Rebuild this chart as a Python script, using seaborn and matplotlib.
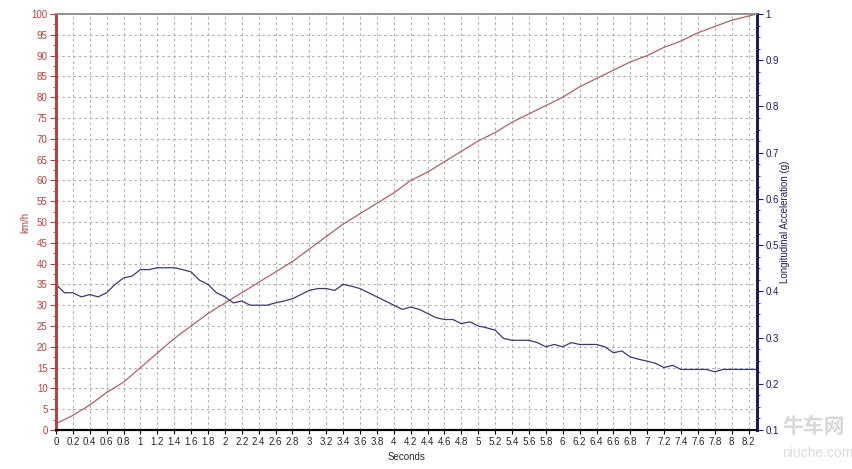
import numpy as np
import pandas as pd
import matplotlib.pyplot as plt
import seaborn as sns
from matplotlib.ticker import MultipleLocator, FixedLocator

# ------------------------- Data -------------------------
speed_t = [0, 0.2, 0.4, 0.6, 0.8, 1.0, 1.2, 1.4, 1.6, 1.8, 2.0, 2.2, 2.4, 2.6, 2.8,
           3.0, 3.2, 3.4, 3.6, 3.8, 4.0, 4.2, 4.4, 4.6, 4.8, 5.0, 5.2, 5.4, 5.6, 5.8,
           6.0, 6.2, 6.4, 6.6, 6.8, 7.0, 7.2, 7.4, 7.6, 7.8, 8.0, 8.3]
speed_kmh = [1.5, 3.5, 6, 9, 11.5, 15, 18.5, 22, 25, 28, 30.5, 33, 35.5, 38, 40.5,
             43.5, 46.5, 49.5, 52, 54.5, 57, 60, 62, 64.5, 67, 69.5, 71.5, 74, 76, 78,
             80, 82.5, 84.5, 86.5, 88.5, 90, 92, 93.5, 95.5, 97, 98.5, 100]

acc_t = [0, 0.1, 0.2, 0.3, 0.4, 0.5, 0.6, 0.7, 0.8, 0.9, 1.0, 1.1, 1.2, 1.3, 1.4,
         1.5, 1.6, 1.7, 1.8, 1.9, 2.0, 2.1, 2.2, 2.3, 2.4, 2.5, 2.6, 2.7, 2.8, 2.9,
         3.0, 3.1, 3.2, 3.3, 3.4, 3.5, 3.6, 3.7, 3.8, 3.9, 4.0, 4.1, 4.2, 4.3, 4.4,
         4.5, 4.6, 4.7, 4.8, 4.9, 5.0, 5.1, 5.2, 5.3, 5.4, 5.5, 5.6, 5.7, 5.8, 5.9,
         6.0, 6.1, 6.2, 6.3, 6.4, 6.5, 6.6, 6.7, 6.8, 6.9, 7.0, 7.1, 7.2, 7.3, 7.4,
         7.5, 7.6, 7.7, 7.8, 7.9, 8.0, 8.1, 8.3]
acc_g = [0.415, 0.397, 0.397, 0.388, 0.393, 0.388, 0.397, 0.415, 0.429, 0.433,
         0.447, 0.447, 0.451, 0.451, 0.451, 0.447, 0.442, 0.424, 0.415, 0.397,
         0.388, 0.375, 0.379, 0.370, 0.370, 0.370, 0.375, 0.379, 0.384, 0.393,
         0.402, 0.406, 0.406, 0.402, 0.415, 0.411, 0.406, 0.397, 0.388, 0.379,
         0.370, 0.361, 0.366, 0.361, 0.352, 0.343, 0.339, 0.339, 0.330, 0.334,
         0.325, 0.321, 0.316, 0.298, 0.294, 0.294, 0.294, 0.289, 0.280, 0.285,
         0.280, 0.289, 0.285, 0.285, 0.285, 0.280, 0.267, 0.271, 0.258, 0.253,
         0.249, 0.244, 0.235, 0.240, 0.231, 0.231, 0.231, 0.231, 0.226, 0.231,
         0.231, 0.231, 0.231]

x_ticks = [round(0.2 * i, 1) for i in range(42)]
x_labels = [f"{v:g}" for v in x_ticks]

speed_df = pd.DataFrame({"t": speed_t, "kmh": speed_kmh})
acc_df = pd.DataFrame({"t": acc_t, "g": acc_g})

# ------------------------- Style -------------------------
sns.set_style("white")
plt.rcParams["font.family"] = ["Liberation Sans", "Noto Sans CJK SC", "DejaVu Sans"]

red = "#b8403f"
navy = "#1e1a5e"

fig = plt.figure(figsize=(8.52, 4.69), dpi=100)
ax = fig.add_axes([0.0657, 0.0832, 0.8228, 0.8869])
ax2 = ax.twinx()

sns.lineplot(data=speed_df, x="t", y="kmh", ax=ax, color="#b06060", lw=0.9)
sns.lineplot(data=acc_df, x="t", y="g", ax=ax2, color="#3a3a70", lw=0.9)

ax.set_xlim(0, 8.3)
ax.set_ylim(0, 100)
ax2.set_ylim(0.1, 1.0)

ax.xaxis.set_major_locator(FixedLocator(x_ticks))
ax.set_xticklabels(x_labels)
ax.yaxis.set_major_locator(MultipleLocator(5))
ax.yaxis.set_minor_locator(MultipleLocator(2.5))
ax2.yaxis.set_major_locator(MultipleLocator(0.1))
ax2.yaxis.set_minor_locator(MultipleLocator(0.025))
ax2.set_yticklabels([f"{v:g}" for v in ax2.get_yticks()])

ax.grid(True, which="major", color="#b4b4b4", linestyle=(0, (2.5, 2.5)), lw=0.8)
ax2.grid(False)

ax.tick_params(axis="x", labelsize=7, length=3, width=0.8, color="black", pad=2, bottom=True)
ax.tick_params(axis="y", which="major", labelsize=7, length=4, width=0.8, colors=red, left=True, pad=2)
ax.tick_params(axis="y", which="minor", length=2, width=0.6, color=red, left=True)
ax2.tick_params(axis="y", which="major", labelsize=7, length=4, width=0.8, colors=navy, right=True, pad=2)
ax2.tick_params(axis="y", which="minor", length=2, width=0.6, color=navy, right=True)

for a in (ax, ax2):
    a.spines["left"].set_color(red)
    a.spines["left"].set_linewidth(2)
    a.spines["right"].set_color(navy)
    a.spines["right"].set_linewidth(2)
    a.spines["bottom"].set_color("black")
    a.spines["bottom"].set_linewidth(1.5)
    a.spines["top"].set_color("#909090")
    a.spines["top"].set_linewidth(1.2)

ax.set_xlabel("Seconds", fontsize=7, labelpad=4)
ax.set_ylabel("km/h", fontsize=7, color=red)
ax.yaxis.set_label_coords(-0.037, 0.50)
ax2.set_ylabel("Longitudinal Acceleration (g)", fontsize=7, color=navy)
ax2.yaxis.set_label_coords(1.033, 0.50)

# watermark
fig.text(0.918, 0.09, "牛车网", fontsize=15, color="#d8d8d8", ha="left", va="center",
         fontweight="bold")
fig.text(0.918, 0.035, "niuche.com", fontsize=10, color="#dcdcdc", ha="left", va="center")

fig.savefig("out.png", dpi=100)
